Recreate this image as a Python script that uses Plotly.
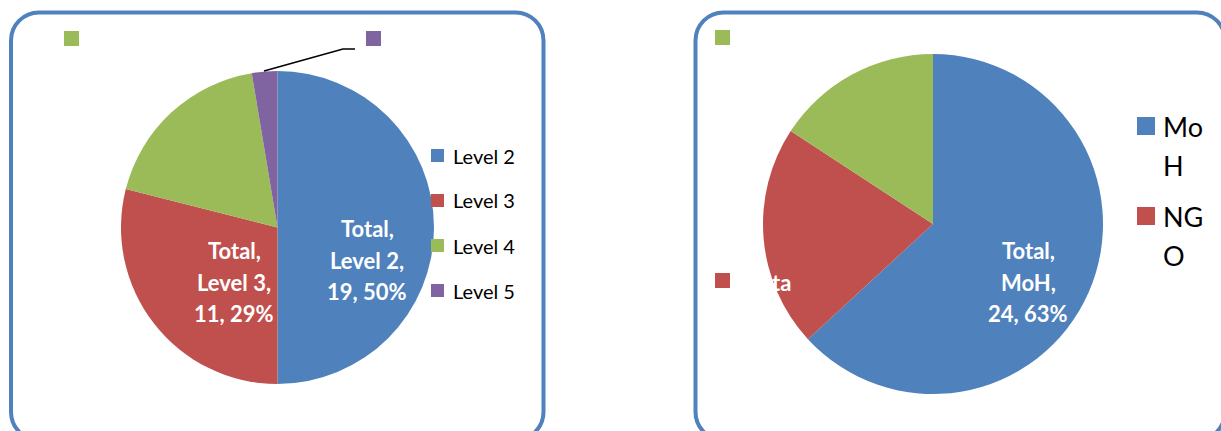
import plotly.graph_objects as go

W, H = 1221, 431

# Staff by level
level_labels = ["Level 2", "Level 3", "Level 4", "Level 5"]
level_values = [19, 11, 7, 1]
level_colors = ["#4F81BD", "#C0504D", "#9BBB59", "#8064A2"]

# Staff by employer
org_labels = ["MoH", "NGO", "Other"]
org_values = [24, 8, 6]
org_colors = ["#4F81BD", "#C0504D", "#9BBB59"]

FONT = "Lato"


def px(x, y):
    """Pixel position -> paper coordinates."""
    return x / W, 1 - y / H


def rounded_rect(x0, y0, x1, y1, r):
    k = 0.5523 * r
    pts = [
        ("M", [(x0 + r, y0)]),
        ("L", [(x1 - r, y0)]),
        ("C", [(x1 - r + k, y0), (x1, y0 + r - k), (x1, y0 + r)]),
        ("L", [(x1, y1 - r)]),
        ("C", [(x1, y1 - r + k), (x1 - r + k, y1), (x1 - r, y1)]),
        ("L", [(x0 + r, y1)]),
        ("C", [(x0 + r - k, y1), (x0, y1 - r + k), (x0, y1 - r)]),
        ("L", [(x0, y0 + r)]),
        ("C", [(x0, y0 + r - k), (x0 + r - k, y0), (x0 + r, y0)]),
    ]
    out = []
    for cmd, ps in pts:
        coords = " ".join("%.5f,%.5f" % px(x, y) for x, y in ps)
        out.append(cmd + " " + coords)
    return " ".join(out) + " Z"


def domain(cx, cy, r):
    xa, ya = px(cx - r, cy + r)
    xb, yb = px(cx + r, cy - r)
    return dict(x=[xa, xb], y=[ya, yb])


fig = go.Figure()

fig.add_trace(go.Pie(
    labels=level_labels, values=level_values,
    marker=dict(colors=level_colors, line=dict(width=0)),
    sort=False, direction="clockwise", rotation=0,
    textinfo="none", hoverinfo="label+value+percent",
    showlegend=False, domain=domain(277.5, 227.5, 156.5),
))

fig.add_trace(go.Pie(
    labels=org_labels, values=org_values,
    marker=dict(colors=org_colors, line=dict(width=0)),
    sort=False, direction="clockwise", rotation=0,
    textinfo="none", hoverinfo="label+value+percent",
    showlegend=False, domain=domain(933, 224, 170),
))

shapes = []
annotations = []

# chart frames
for x0, x1 in [(11, 543.5), (695.5, 1225)]:
    shapes.append(dict(type="path", xref="paper", yref="paper",
                       path=rounded_rect(x0, 12.5, x1, 440, 28),
                       line=dict(color="#4F81BD", width=4)))


def square(x0, y0, size, color):
    xa, ya = px(x0, y0 + size)
    xb, yb = px(x0 + size, y0)
    shapes.append(dict(type="rect", xref="paper", yref="paper",
                       x0=xa, y0=ya, x1=xb, y1=yb,
                       fillcolor=color, line=dict(width=0)))


def text(x, y, s, size, color="black", bold=False, xanchor="left"):
    ax, ay = px(x, y)
    annotations.append(dict(
        x=ax, y=ay, xref="paper", yref="paper", text=("<b>%s</b>" % s) if bold else s,
        showarrow=False, xanchor=xanchor, yanchor="middle",
        font=dict(family=FONT, size=size, color=color)))


def slice_label(cx, ys, label, value, total):
    pct = round(100 * value / total)
    lines = ["Total,", "%s," % label, "%d, %d%%" % (value, pct)]
    for y, s in zip(ys, lines):
        text(cx, y, s, 22, color="white", bold=True, xanchor="center")


# --- left chart ---
lt = sum(level_values)
slice_label(367, [228, 260, 291], level_labels[0], level_values[0], lt)
slice_label(234, [250, 282, 313], level_labels[1], level_values[1], lt)

# label keys for the small slices
square(64, 31, 15, level_colors[2])
square(366, 31, 15, level_colors[3])
lx = [px(264, 71), px(343, 49), px(355, 49)]
shapes.append(dict(type="path", xref="paper", yref="paper",
                   path="M %.5f,%.5f L %.5f,%.5f L %.5f,%.5f" % (*lx[0], *lx[1], *lx[2]),
                   line=dict(color="black", width=1.5)))

# legend
for i, (lab, col) in enumerate(zip(level_labels, level_colors)):
    yc = 155.5 + i * 45
    square(431, yc - 6.5, 13, col)
    text(451, yc, lab, 20)

# --- right chart ---
ot = sum(org_values)
slice_label(1028, [250, 282, 313], org_labels[0], org_values[0], ot)

square(715, 30, 15, org_colors[2])
square(715, 273, 15, org_colors[1])
text(793, 282, "ta", 22, color="white", bold=True, xanchor="right")

# legend: narrow box wraps each name and only fits two entries
for i in range(2):
    lab = org_labels[i]
    y0 = 117 + i * 90
    square(1137, y0, 18, org_colors[i])
    text(1161, y0 + 9, lab[:2], 27)
    text(1161, y0 + 48, lab[2:], 27)

fig.update_layout(
    width=W, height=H,
    margin=dict(l=0, r=0, t=0, b=0),
    paper_bgcolor="white", plot_bgcolor="white",
    shapes=shapes, annotations=annotations,
    showlegend=False,
)

fig.write_html("out.html")
